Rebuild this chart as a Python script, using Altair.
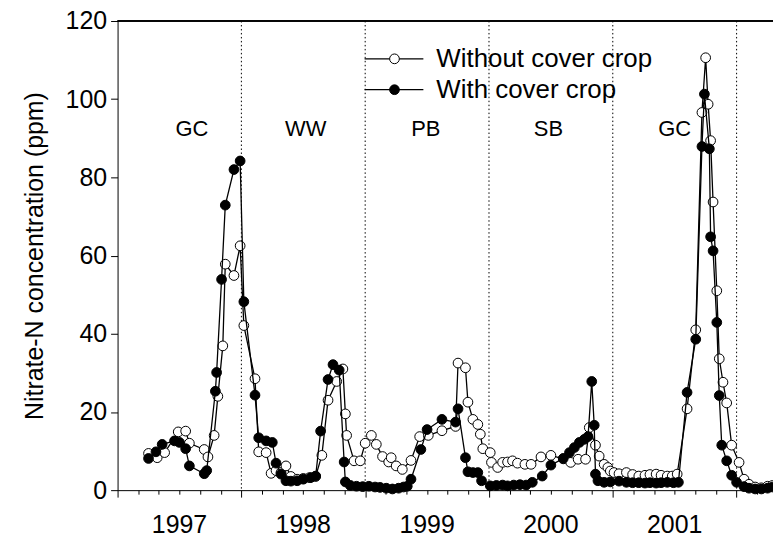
import altair as alt
import pandas as pd

# ---------------- data (decimal year, ppm) ----------------
yr_without = [1997.25, 1997.32, 1997.38, 1997.49, 1997.55, 1997.58, 1997.70, 1997.73, 1997.78, 1997.81,
              1997.85, 1997.87, 1997.94, 1997.99, 1998.02, 1998.11, 1998.14, 1998.20, 1998.24, 1998.28,
              1998.32, 1998.36, 1998.40, 1998.45, 1998.50, 1998.55, 1998.60, 1998.65, 1998.70, 1998.77,
              1998.82, 1998.84, 1998.85, 1998.91, 1998.96, 1999.00, 1999.05, 1999.09, 1999.14, 1999.19,
              1999.21, 1999.25, 1999.30, 1999.37, 1999.44, 1999.51, 1999.62, 1999.73, 1999.75, 1999.81,
              1999.83, 1999.87, 1999.91, 1999.93, 1999.95, 2000.01, 2000.02, 2000.07, 2000.11, 2000.15,
              2000.19, 2000.23, 2000.29, 2000.34, 2000.42, 2000.50, 2000.60, 2000.66, 2000.72, 2000.78,
              2000.81, 2000.86, 2000.89, 2000.93, 2000.96, 2000.98, 2001.01, 2001.05, 2001.11, 2001.16,
              2001.21, 2001.26, 2001.30, 2001.35, 2001.39, 2001.44, 2001.48, 2001.52, 2001.60, 2001.67,
              2001.72, 2001.75, 2001.77, 2001.79, 2001.81, 2001.84, 2001.86, 2001.89, 2001.92, 2001.96,
              2002.02, 2002.06, 2002.10, 2002.15, 2002.20, 2002.25, 2002.29]
val_without = [9.4, 8.3, 9.6, 14.9, 15.1, 12.0, 10.4, 8.5, 14.0, 24.0,
               36.9, 57.8, 54.9, 62.5, 42.1, 28.5, 9.8, 9.6, 4.3, 5.0,
               4.5, 6.2, 3.5, 2.8, 3.0, 3.2, 3.5, 8.9, 23.0, 27.8,
               31.0, 19.5, 14.0, 7.5, 7.5, 12.0, 14.0, 11.7, 8.6, 7.2,
               8.3, 6.2, 5.3, 7.6, 13.7, 14.0, 15.2, 16.3, 32.5, 31.3,
               22.5, 18.1, 16.8, 14.3, 10.6, 9.6, 7.1, 5.8, 7.1, 7.2,
               7.5, 6.9, 6.6, 6.6, 8.5, 8.9, 8.0, 7.1, 7.9, 7.9,
               16.0, 11.5, 8.7, 6.6, 5.8, 4.9, 4.5, 4.2, 4.5, 4.0,
               3.6, 3.8, 4.0, 4.1, 3.8, 3.6, 3.6, 4.1, 20.8, 41.0,
               96.6, 110.6, 98.7, 89.4, 73.7, 51.0, 33.6, 27.6, 22.3, 11.5,
               7.1, 2.8, 1.5, 0.8, 0.6, 1.0, 1.2]

yr_with = [1997.25, 1997.31, 1997.36, 1997.46, 1997.50, 1997.55, 1997.58, 1997.70, 1997.72, 1997.79,
           1997.80, 1997.84, 1997.87, 1997.94, 1997.99, 1998.02, 1998.11, 1998.14, 1998.20, 1998.25,
           1998.28, 1998.32, 1998.36, 1998.40, 1998.45, 1998.50, 1998.56, 1998.60, 1998.64, 1998.70,
           1998.74, 1998.79, 1998.83, 1998.84, 1998.88, 1998.93, 1998.98, 1999.03, 1999.08, 1999.12,
           1999.17, 1999.22, 1999.27, 1999.31, 1999.34, 1999.37, 1999.45, 1999.50, 1999.62, 1999.73,
           1999.75, 1999.81, 1999.83, 1999.87, 1999.91, 1999.94, 2000.01, 2000.06, 2000.11, 2000.15,
           2000.20, 2000.25, 2000.30, 2000.35, 2000.43, 2000.50, 2000.60, 2000.65, 2000.69, 2000.73,
           2000.77, 2000.80, 2000.83, 2000.85, 2000.86, 2000.88, 2000.93, 2000.98, 2001.05, 2001.11,
           2001.16, 2001.21, 2001.26, 2001.30, 2001.35, 2001.39, 2001.44, 2001.49, 2001.53, 2001.60,
           2001.67, 2001.72, 2001.74, 2001.78, 2001.79, 2001.81, 2001.84, 2001.86, 2001.88, 2001.92,
           2001.96, 2002.00, 2002.06, 2002.10, 2002.15, 2002.20, 2002.25, 2002.29]
val_with = [8.1, 9.8, 11.7, 12.6, 12.2, 10.6, 6.2, 4.2, 5.0, 25.3,
            30.1, 53.9, 72.9, 82.0, 84.2, 48.2, 24.3, 13.4, 12.6, 12.2,
            6.9, 4.1, 2.4, 2.3, 2.4, 2.8, 3.2, 3.6, 15.1, 28.3,
            32.1, 30.7, 7.2, 2.1, 1.2, 1.0, 0.9, 1.0, 0.8, 0.7,
            0.5, 0.3, 0.5, 0.8, 1.0, 2.8, 10.4, 15.5, 18.1, 17.4,
            20.8, 8.3, 4.7, 4.5, 4.5, 2.4, 1.1, 1.2, 1.3, 1.1,
            1.3, 1.4, 1.3, 2.0, 3.6, 6.4, 8.1, 9.6, 10.9, 12.2,
            13.0, 13.7, 27.8, 16.6, 4.1, 2.4, 2.0, 2.1, 2.3, 2.0,
            1.9, 1.9, 1.8, 1.9, 1.8, 1.9, 2.0, 1.9, 2.0, 25.0,
            38.6, 87.9, 101.3, 87.3, 64.8, 61.2, 42.9, 24.2, 11.5, 7.5,
            3.8, 2.0, 0.9, 0.5, 0.3, 0.3, 0.5, 0.8]

crop_labels = ["GC", "WW", "PB", "SB", "GC"]
crop_label_x = [1997.60, 1998.52, 1999.49, 2000.48, 2001.50]
crop_label_y = [90.7, 90.7, 90.7, 90.7, 90.7]

year_labels = ["1997", "1998", "1999", "2000", "2001"]
year_label_x = [1997.5, 1998.5, 1999.5, 2000.5, 2001.5]

season_bounds = [1998, 1999, 2000, 2001, 2002]

series_names = ["Without cover crop", "With cover crop"]

# ---------------- layout ----------------
W, H = 658, 471
FONT = "Liberation Sans"
X_DOMAIN = [1997.0, 2002.294]

df_without = pd.DataFrame({"year": yr_without, "ppm": val_without})
df_with = pd.DataFrame({"year": yr_with, "ppm": val_with})
df_crop = pd.DataFrame({"year": crop_label_x, "ppm": crop_label_y, "label": crop_labels})
df_years = pd.DataFrame({"year": year_label_x, "label": year_labels})
df_bounds = pd.DataFrame({"year": season_bounds})

tick_vals = [round(1997 + i / 6, 4) for i in range(32)]

xscale = alt.Scale(domain=X_DOMAIN, nice=False, zero=False)
yscale = alt.Scale(domain=[0, 120], nice=False)

x_axis = alt.Axis(
    values=tick_vals, labels=False, title=None, grid=False,
    domainColor="black", tickColor="black", domainWidth=1, tickWidth=1,
    tickSize={"condition": {"test": "abs(datum.value - round(datum.value)) < 0.01", "value": 7}, "value": 4},
)
y_axis = alt.Axis(
    values=[0, 20, 40, 60, 80, 100, 120], title="Nitrate-N concentration (ppm)", grid=False,
    domainColor="black", tickColor="black", tickSize=7, labelPadding=4,
    labelFont=FONT, labelFontSize=25, labelColor="black",
    titleFont=FONT, titleFontSize=25, titleFontWeight="normal", titleColor="black",
    titleX=-83, titleBaseline="middle",
)

X = alt.X("year:Q", scale=xscale, axis=x_axis)
Y = alt.Y("ppm:Q", scale=yscale, axis=y_axis)

bounds = alt.Chart(df_bounds).mark_rule(color="black", strokeWidth=1, strokeDash=[1.5, 2.5]).encode(
    x=alt.X("year:Q", scale=xscale, axis=x_axis)
)

top_border = alt.Chart(df_bounds).mark_rule(color="black", strokeWidth=1).encode(
    x=alt.value(0), x2=alt.value(W), y=alt.value(0)
)

line_without = alt.Chart(df_without).mark_line(color="black", strokeWidth=1.3).encode(x=X, y=Y)
pts_without = alt.Chart(df_without).mark_point(
    shape="circle", filled=True, fill="white", stroke="black", strokeWidth=1, size=95, opacity=1
).encode(x=X, y=Y)

line_with = alt.Chart(df_with).mark_line(color="black", strokeWidth=1.3).encode(x=X, y=Y)
pts_with = alt.Chart(df_with).mark_point(
    shape="circle", filled=True, fill="black", stroke="black", strokeWidth=1, size=95, opacity=1
).encode(x=X, y=Y)

crop_text = alt.Chart(df_crop).mark_text(
    font=FONT, fontSize=22, color="black", align="center", baseline="alphabetic"
).encode(x=X, y=Y, text="label:N")

year_text = alt.Chart(df_years).mark_text(
    font=FONT, fontSize=25, color="black", align="center", baseline="alphabetic"
).encode(x=alt.X("year:Q", scale=xscale, axis=x_axis), y=alt.value(H + 43), text="label:N")

# ---------------- legend (drawn manually) ----------------
df_leg = pd.DataFrame({"name": series_names, "row": [0, 1]})
LEG_X0, LEG_X1, LEG_PT, LEG_TX = 248, 307, 278, 320
LEG_Y = [38, 69]

leg_layers = []
for i, (name, fill) in enumerate(zip(series_names, ["white", "black"])):
    d = df_leg[df_leg.row == i]
    leg_layers.append(
        alt.Chart(d).mark_rule(color="black", strokeWidth=1.3).encode(
            x=alt.value(LEG_X0), x2=alt.value(LEG_X1), y=alt.value(LEG_Y[i]))
    )
    leg_layers.append(
        alt.Chart(d).mark_point(shape="circle", filled=True, fill=fill, stroke="black",
                                strokeWidth=1, size=95, opacity=1).encode(
            x=alt.value(LEG_PT), y=alt.value(LEG_Y[i]))
    )
    leg_layers.append(
        alt.Chart(d).mark_text(font=FONT, fontSize=26, color="black", align="left",
                               baseline="middle").encode(
            x=alt.value(LEG_TX), y=alt.value(LEG_Y[i]), text="name:N")
    )

chart = alt.layer(
    bounds, top_border, line_without, pts_without, line_with, pts_with,
    crop_text, year_text, *leg_layers
).properties(
    width=W, height=H,
    autosize=alt.AutoSizeParams(type="none"),
    padding={"left": 110, "top": 12, "right": 0, "bottom": 46},
    background="white",
).configure_view(stroke=None)

chart.save("out.html", embed_options={"renderer": "svg", "actions": False})
